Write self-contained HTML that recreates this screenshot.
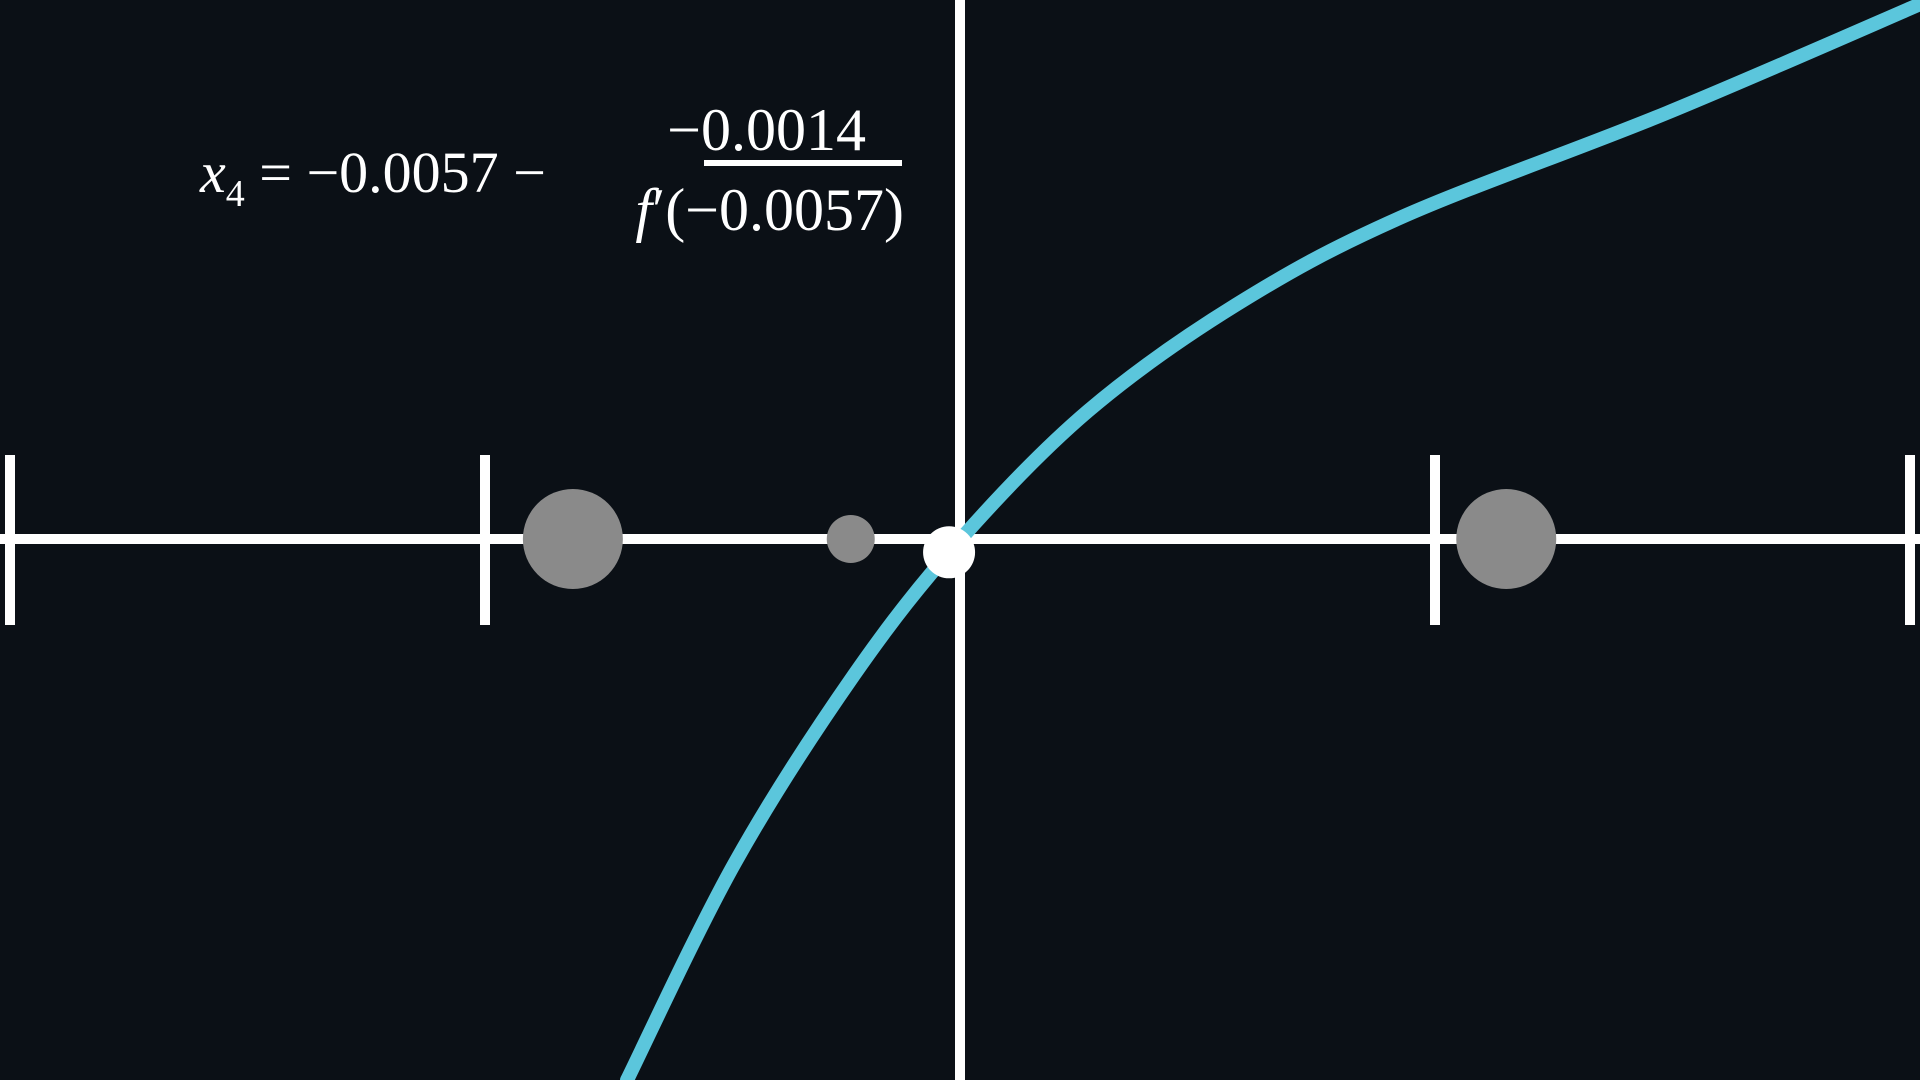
<!DOCTYPE html>
<html><head><meta charset="utf-8"><style>
html,body{margin:0;padding:0;background:#0b1016;width:1920px;height:1080px;overflow:hidden}
svg{display:block}
text{font-family:"Liberation Serif",serif;fill:#fff}
</style></head><body>
<svg width="1920" height="1080" viewBox="0 0 1920 1080">
<rect width="1920" height="1080" fill="#0b1016"/>
<g id="axes"></g>
<g id="curve"></g>
<g id="dots"></g>
<g>
<text x="200" y="192" font-size="58" font-style="italic">x<tspan font-size="38" dy="14" font-style="normal">4</tspan><tspan dy="-14" font-style="normal"> = −0.0057 −</tspan></text>
<text x="866" y="150" font-size="60" text-anchor="end">−0.0014</text>
<rect x="704" y="160" width="198" height="6" fill="#fff"/>
<text x="904" y="230" font-size="60" text-anchor="end"><tspan font-style="italic">f</tspan>′(−0.0057)</text>
</g>
</svg>
<script>
const tickValues=[-2,-1,1,2];
const curveX=[-0.701,-0.474,-0.223,0,0.269,0.581,0.926,1.488,2.042];
const curveY=[-1.139,-0.682,-0.286,-0.002,0.269,0.493,0.676,0.897,1.135];
const dotX=[-0.815,-0.23,1.15];
const dotR=[50,24,50];
const currentX=[-0.023];
const currentY=[-0.028];

const cx=960,cy=539,unit=475;
const sx=v=>cx+v*unit, sy=v=>cy-v*unit;
const NS="http://www.w3.org/2000/svg";
function mk(tag,attrs,parent){const e=document.createElementNS(NS,tag);for(const k in attrs)e.setAttribute(k,attrs[k]);parent.appendChild(e);return e;}
const axes=document.getElementById('axes');
let e=mk('line',{x1:0,y1:cy,x2:1920,y2:cy,stroke:'#fff','stroke-width':10},axes);


e=mk('line',{x1:cx,y1:0,x2:cx,y2:1080,stroke:'#fff','stroke-width':10},axes);


tickValues.forEach(v=>{
  const t=mk('line',{x1:sx(v),y1:455,x2:sx(v),y2:625,stroke:'#fff','stroke-width':10},axes);
  
  
});
const pts=curveX.map((x,i)=>[sx(x),sy(curveY[i])]);
let d=`M${pts[0][0]},${pts[0][1]}`;
for(let i=0;i<pts.length-1;i++){
  const p0=pts[Math.max(0,i-1)],p1=pts[i],p2=pts[i+1],p3=pts[Math.min(pts.length-1,i+2)];
  const c1=[p1[0]+(p2[0]-p0[0])/6,p1[1]+(p2[1]-p0[1])/6];
  const c2=[p2[0]-(p3[0]-p1[0])/6,p2[1]-(p3[1]-p1[1])/6];
  d+=` C${c1[0]},${c1[1]} ${c2[0]},${c2[1]} ${p2[0]},${p2[1]}`;
}
const path=mk('path',{d:d,fill:'none',stroke:'#5bc6dc','stroke-width':14,'stroke-linecap':'round'},document.getElementById('curve'));


const dots=document.getElementById('dots');
dotX.forEach((v,i)=>{
  const c=mk('circle',{cx:sx(v),cy:cy,r:dotR[i],fill:'#8a8a8a'},dots);
  
  
});
const w=mk('circle',{cx:sx(currentX[0]),cy:sy(currentY[0]),r:26,fill:'#fff'},dots);


</script>
</body></html>
